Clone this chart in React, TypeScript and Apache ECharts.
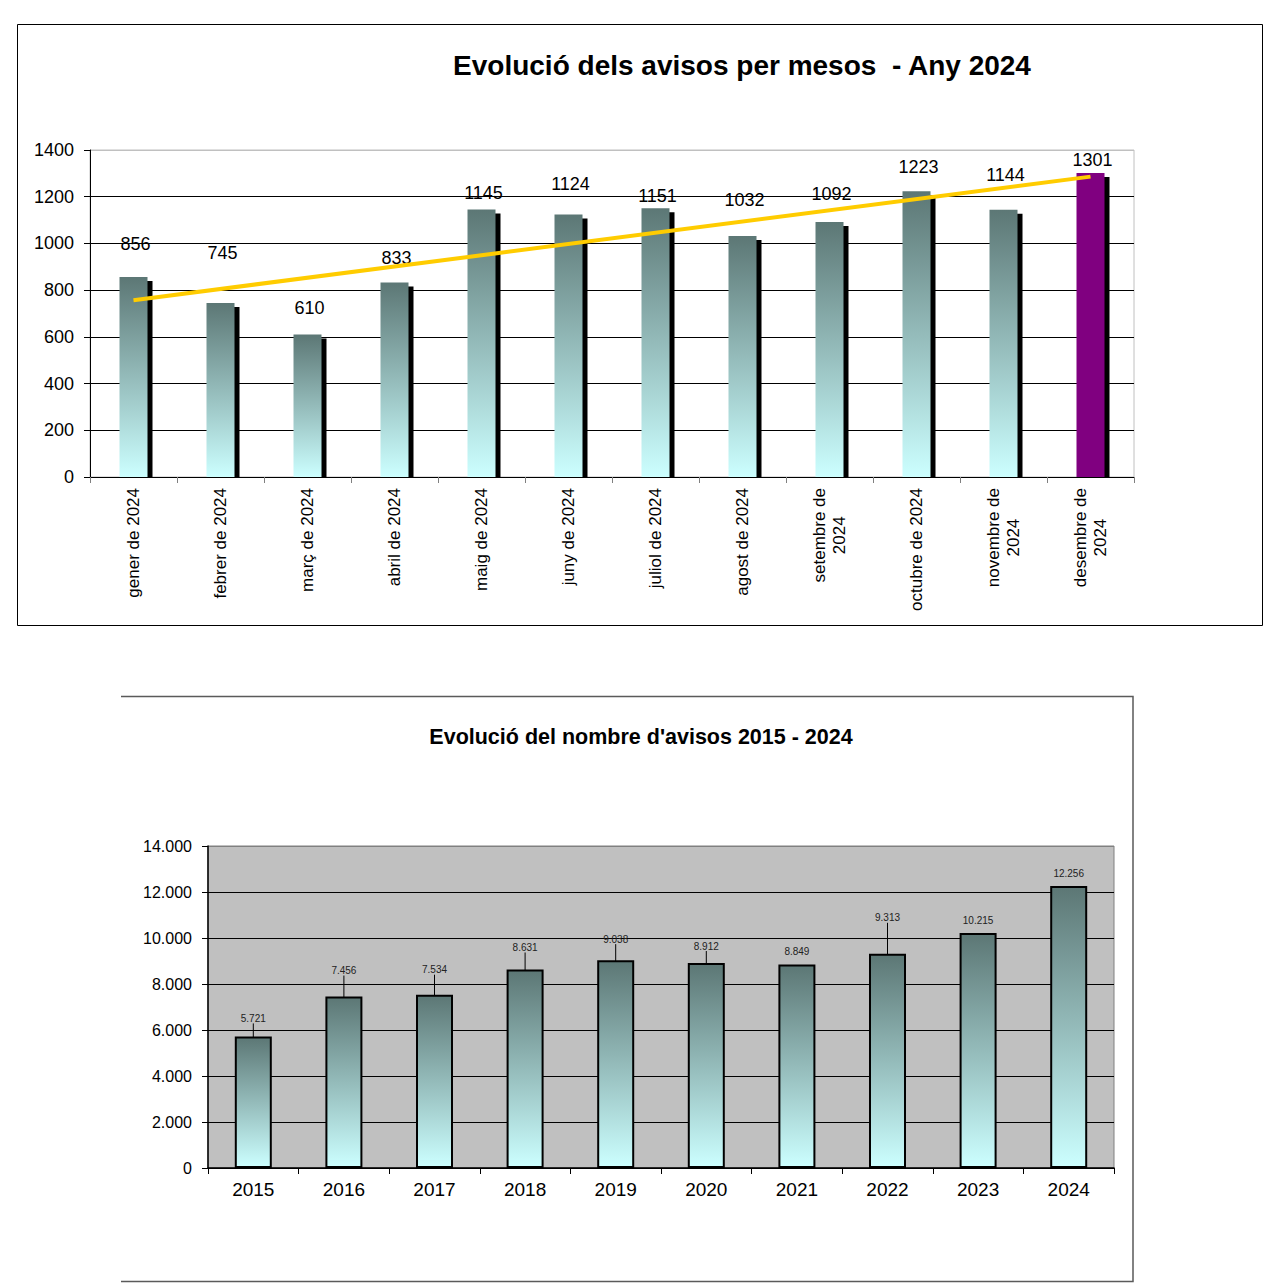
import React, { useEffect, useRef } from 'react';
import * as echarts from 'echarts';

// ---- Data ----
const months = [
  'gener de 2024', 'febrer de 2024', 'març de 2024', 'abril de 2024',
  'maig de 2024', 'juny de 2024', 'juliol de 2024', 'agost de 2024',
  'setembre de 2024', 'octubre de 2024', 'novembre de 2024', 'desembre de 2024',
];
const monthlyAvisos = [856, 745, 610, 833, 1145, 1124, 1151, 1032, 1092, 1223, 1144, 1301];
// trend line end points (first month, last month)
const trendEnds = [757, 1286];
const monthAxis = { min: 0, max: 1400, interval: 200 };

const years = ['2015', '2016', '2017', '2018', '2019', '2020', '2021', '2022', '2023', '2024'];
const yearlyAvisos = [5721, 7456, 7534, 8631, 9038, 8912, 8849, 9313, 10215, 12256];
const yearAxis = { min: 0, max: 14000, interval: 2000 };

// ---- Styling helpers (label displacement in px, leader lines) ----
const monthLabelDy = [-21, -38, -15, -12, -5, -18, 0, -24, -16, -12, -23, -1];
const yearLabelDy = [-10, -18, -17, -14, -13, -9, -5, -28, -5, -5];
const yearLeader = [true, true, true, true, true, true, false, true, false, false];

const FONT = '"Liberation Sans", Arial, Helvetica, sans-serif';
const fmtDots = (v: number) => String(v).replace(/\B(?=(\d{3})+(?!\d))/g, '.');
const wrapLabel = (s: string) => {
  if (s.length <= 15) return s;
  const i = s.lastIndexOf(' ');
  return s.slice(0, i) + '\n' + s.slice(i + 1);
};

export default function App() {
  const ref = useRef<HTMLDivElement>(null);

  useEffect(() => {
    if (!ref.current) return;
    const chart = echarts.init(ref.current, undefined, { renderer: 'svg' });

    const grad = () =>
      new echarts.graphic.LinearGradient(0, 0, 0, 1, [
        { offset: 0, color: '#5c7775' },
        { offset: 1, color: '#ccffff' },
      ]);
    const highlight = months.length - 1;

    const option: any = {
      animation: false,
      backgroundColor: '#ffffff',
      textStyle: { fontFamily: FONT },
      graphic: [
        {
          type: 'rect', silent: true, z: 0,
          shape: { x: 17.5, y: 24.5, width: 1245, height: 601 },
          style: { fill: 'none', stroke: '#000', lineWidth: 1 },
        },
        {
          type: 'polyline', silent: true, z: 0,
          shape: { points: [[121, 696.5], [1133, 696.5], [1133, 1281.5], [121, 1281.5]] },
          style: { fill: 'none', stroke: '#5a5a5a', lineWidth: 1.5 },
        },
        {
          type: 'text', silent: true, x: 742, y: 65,
          style: {
            text: 'Evolució dels avisos per mesos  - Any 2024',
            font: `bold 28px ${FONT}`, fill: '#000',
            textAlign: 'center', textVerticalAlign: 'middle',
          },
        },
        {
          type: 'text', silent: true, x: 641, y: 737,
          style: {
            text: "Evolució del nombre d'avisos 2015 - 2024",
            font: `bold 21.5px ${FONT}`, fill: '#000',
            textAlign: 'center', textVerticalAlign: 'middle',
          },
        },
      ],
      grid: [
        {
          left: 90, top: 150, width: 1044, height: 327,
          show: true, borderColor: '#c0c0c0', borderWidth: 1, backgroundColor: 'transparent',
        },
        {
          left: 208, top: 846, width: 906, height: 322,
          show: true, borderColor: '#808080', borderWidth: 1, backgroundColor: '#c0c0c0',
        },
      ],
      xAxis: [
        {
          gridIndex: 0, type: 'category', data: months,
          axisLine: { lineStyle: { color: '#000', width: 1 } },
          axisTick: { show: true, length: 6, lineStyle: { color: '#808080' } },
          axisLabel: {
            interval: 0, rotate: 90, margin: 11,
            formatter: (v: string) => wrapLabel(v).split('\n').map((l) => `{c|${l}}`).join('\n'),
            rich: { c: { align: 'center', fontSize: 17, fontFamily: FONT, color: '#000', lineHeight: 20 } },
          },
        },
        {
          gridIndex: 1, type: 'category', data: years,
          axisLine: { lineStyle: { color: '#000', width: 1.5 } },
          axisTick: { show: true, length: 6, lineStyle: { color: '#000' } },
          axisLabel: { interval: 0, margin: 12, fontSize: 19, fontFamily: FONT, color: '#000' },
        },
      ],
      yAxis: [
        {
          gridIndex: 0, type: 'value', ...monthAxis,
          axisLine: { show: true, lineStyle: { color: '#000', width: 1 } },
          axisTick: { show: true, length: 6, lineStyle: { color: '#000' } },
          axisLabel: { fontSize: 18, margin: 16, color: '#000', fontFamily: FONT, formatter: (v: number) => String(v) },
          splitLine: {
            show: true,
            lineStyle: { color: ['#000', '#000', '#000', '#000', '#000', '#000', '#000', '#c0c0c0'], width: 1 },
          },
        },
        {
          gridIndex: 1, type: 'value', ...yearAxis,
          axisLine: { show: true, lineStyle: { color: '#000', width: 1.5 } },
          axisTick: { show: true, length: 6, lineStyle: { color: '#000' } },
          axisLabel: { fontSize: 16, margin: 16, color: '#000', fontFamily: FONT, formatter: (v: number) => fmtDots(v) },
          splitLine: {
            show: true,
            lineStyle: { color: ['#000', '#000', '#000', '#000', '#000', '#000', '#000', '#808080'], width: 1 },
          },
        },
      ],
      series: [
        {
          type: 'custom', xAxisIndex: 0, yAxisIndex: 0, z: 2, silent: true,
          data: monthlyAvisos.map((v, i) => [i, v]),
          renderItem: (_p: any, api: any) => {
            const top = api.coord([api.value(0), api.value(1)]);
            const base = api.coord([api.value(0), 0]);
            const w = 28;
            return {
              type: 'rect',
              shape: { x: top[0] - w / 2 + 5, y: top[1] + 4, width: w, height: Math.max(0, base[1] - top[1] - 4) },
              style: { fill: '#000' },
            };
          },
        },
        {
          type: 'bar', xAxisIndex: 0, yAxisIndex: 0, z: 3, barWidth: 28,
          data: monthlyAvisos.map((v, i) => (i === highlight ? { value: v, itemStyle: { color: '#800080' } } : v)),
          itemStyle: { color: grad() },
          label: { show: true, position: 'top', distance: 3, fontSize: 18, fontFamily: FONT, color: '#000' },
          labelLayout: (p: any) => ({ dx: 2, dy: monthLabelDy[p.dataIndex] }),
        },
        {
          type: 'line', xAxisIndex: 0, yAxisIndex: 0, z: 4, silent: true,
          symbol: 'none', showSymbol: false,
          data: [[0, trendEnds[0]], [months.length - 1, trendEnds[1]]],
          lineStyle: { color: '#ffcc00', width: 4 },
        },
        {
          type: 'bar', xAxisIndex: 1, yAxisIndex: 1, z: 3, barWidth: 37,
          data: yearlyAvisos.map((v, i) => ({ value: v, labelLine: { show: yearLeader[i] } })),
          itemStyle: { color: grad(), borderColor: '#000', borderWidth: 2 },
          label: {
            show: true, position: 'top', distance: 3, fontSize: 10, fontFamily: FONT, color: '#222',
            formatter: (p: any) => fmtDots(p.value),
          },
          labelLine: { show: true, lineStyle: { color: '#000', width: 1 } },
          labelLayout: (p: any) => ({ dy: yearLabelDy[p.dataIndex] }),
        },
      ],
    };

    chart.setOption(option);
    return () => chart.dispose();
  }, []);

  return (
    <div
      ref={ref}
      style={{ position: 'absolute', left: 0, top: 0, width: 1284, height: 1284, background: '#fff' }}
    />
  );
}
